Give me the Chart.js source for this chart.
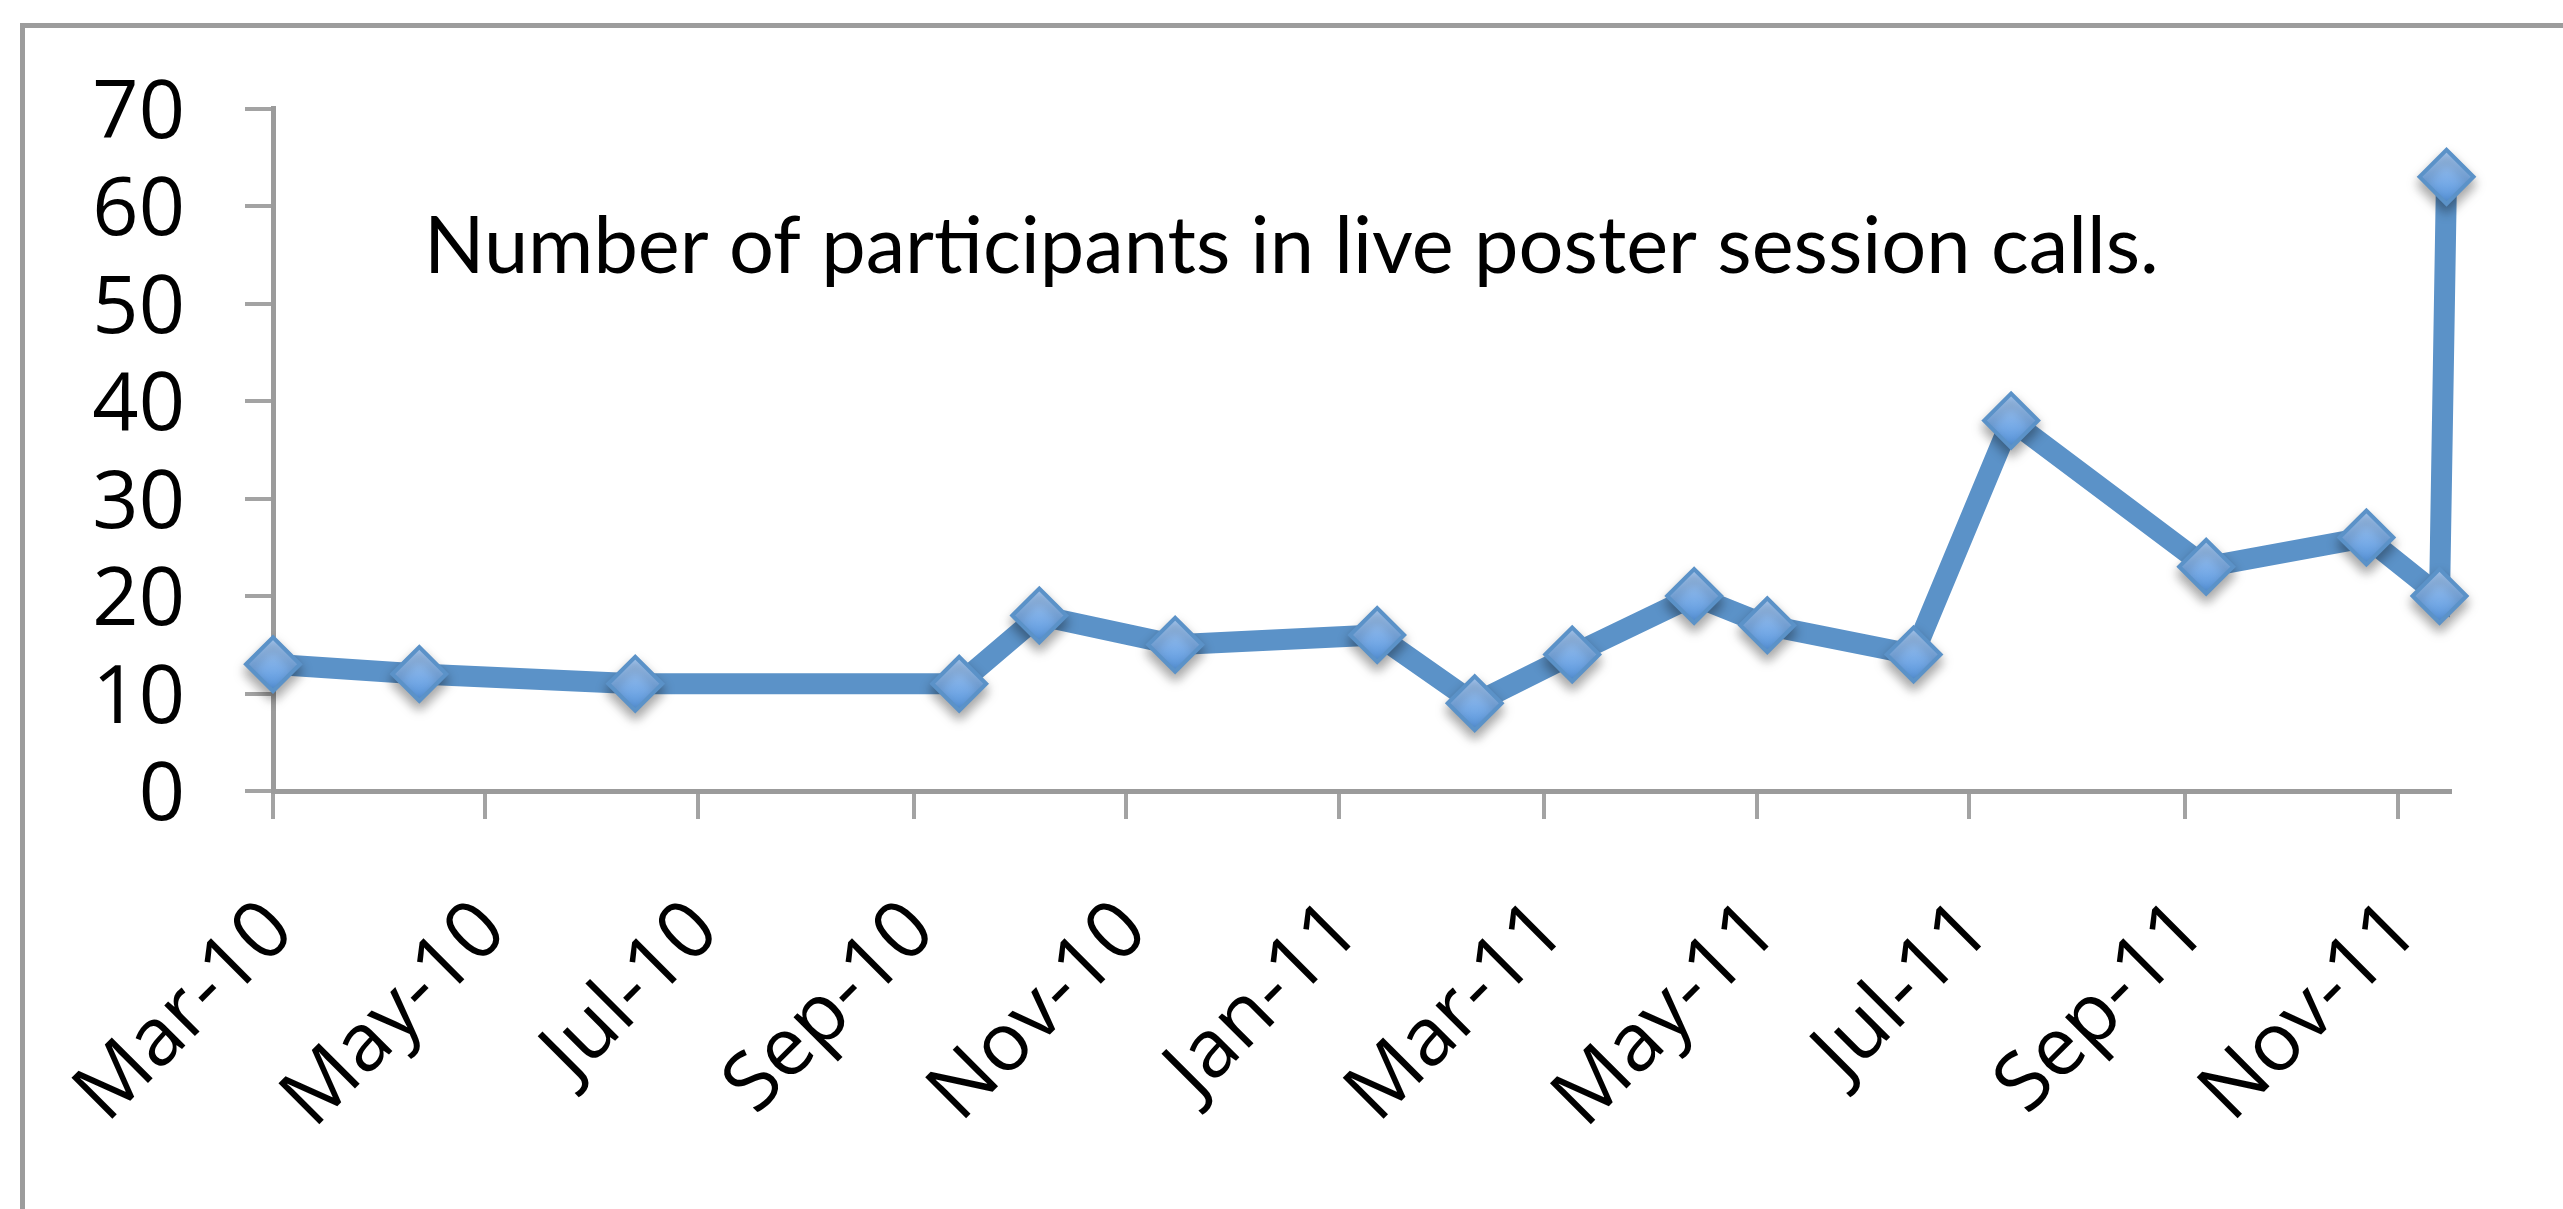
<!DOCTYPE html>
<html><head><meta charset="utf-8">
<script src="https://cdn.jsdelivr.net/npm/chart.js@4.4.1/dist/chart.umd.min.js"></script>
<style>
html,body{margin:0;padding:0;background:#fff;overflow:hidden}
#wrap{position:relative;width:2563px;height:1209px;overflow:hidden}
#frame{position:absolute;left:20px;top:23px;width:2600px;height:1182px;border-left:5px solid #9c9c9c;border-top:5px solid #9c9c9c;border-bottom:2px solid #e6e6e6;}
canvas{position:absolute;left:0;top:0}
</style></head>
<body><div id="wrap"><div id="frame"></div><canvas id="c" width="2563" height="1209"></canvas></div>
<script>
const chartTitle = 'Number of participants in live poster session calls.';
// day offsets from 1 Mar 2010 of each call
const callDays = [0, 42, 104, 197, 220, 259, 317, 345, 373, 408, 429, 471, 499, 555, 601, 622, 624];
const participants = [13, 12, 11, 11, 18, 15, 16, 9, 14, 20, 17, 14, 38, 23, 26, 20, 63];
// month ticks (day offsets from 1 Mar 2010)
const tickDays = [0, 61, 122, 184, 245, 306, 365, 426, 487, 549, 610];
const tickLabels = ['Mar-10','May-10','Jul-10','Sep-10','Nov-10','Jan-11','Mar-11','May-11','Jul-11','Sep-11','Nov-11'];
const yMin = 0, yMax = 70, yStep = 10;
const xMin = 0, xMax = 625;

const points = callDays.map((d, i) => ({x: d, y: participants[i]}));

const LINE = '#5b92c8';
const R = 27;

function markerFill(c) {
  const chart = c.chart;
  if (!chart.chartArea || c.type !== 'data' || !chart.scales.y) return '#7fb0ea';
  const py = chart.scales.y.getPixelForValue(c.parsed.y);
  if (!isFinite(py)) return '#7fb0ea';
  const g = chart.ctx.createLinearGradient(0, py - R, 0, py + R);
  g.addColorStop(0, '#abcdf6');
  g.addColorStop(1, '#5594dc');
  return g;
}

const shadowPlugin = {
  id: 'markerShadow',
  beforeDatasetDraw(chart, args) {
    if (args.index === 0) {
      const ctx = chart.ctx;
      ctx.save();
      ctx.shadowColor = 'rgba(0,0,0,0.35)';
      ctx.shadowBlur = 12;
      ctx.shadowOffsetY = 7;
    }
  },
  afterDatasetDraw(chart, args) {
    if (args.index === 0) chart.ctx.restore();
  }
};

const innerTitle = {
  id: 'innerTitle',
  beforeDatasetsDraw(chart) {
    const ctx = chart.ctx;
    const a = chart.chartArea;
    ctx.save();
    ctx.fillStyle = '#000';
    ctx.textBaseline = 'alphabetic';
    ctx.textAlign = 'left';
    let size = 81;
    ctx.font = size + 'px Lato';
    const w = ctx.measureText(chartTitle).width;
    size = Math.max(70, Math.min(90, size * 1735 / w));
    ctx.font = size + 'px Lato';
    ctx.fillText(chartTitle, a.left + 151, a.top + 164);
    ctx.restore();
  }
};

const tickFont = {family: "'Open Sans'", size: 81};

new Chart(document.getElementById('c'), {
  type: 'line',
  data: {
    datasets: [
      {
        data: points,
        showLine: false,
        clip: false,
        pointStyle: 'rectRot',
        pointRadius: R,
        pointBorderWidth: 4,
        pointBorderColor: LINE,
        pointBackgroundColor: markerFill,
        order: 0
      },
      {
        data: points,
        clip: false,
        borderColor: LINE,
        borderWidth: 21,
        borderJoinStyle: 'miter',
        borderCapStyle: 'butt',
        pointRadius: 0,
        fill: false,
        tension: 0,
        order: 1
      }
    ]
  },
  options: {
    responsive: false,
    animation: false,
    devicePixelRatio: 1,
    layout: {padding: {top: 108, right: 113, left: 0, bottom: 0}},
    plugins: {legend: {display: false}, tooltip: {enabled: false}, title: {display: false}},
    scales: {
      x: {
        type: 'linear',
        min: xMin, max: xMax,
        afterBuildTicks: s => { s.ticks = tickDays.map(v => ({value: v})); },
        afterFit: s => { s.height = 1209 - 791; },
        ticks: {
          autoSkip: false,
          maxRotation: 45, minRotation: 45,
          padding: 64,
          labelOffset: 8,
          font: tickFont,
          color: '#000',
          callback: (v, i) => tickLabels[i]
        },
        grid: {drawOnChartArea: false, drawTicks: true, tickLength: 28, lineWidth: 4, color: '#a3a3a3'},
        border: {display: true, width: 5, color: '#9b9b9b'}
      },
      y: {
        type: 'linear',
        min: yMin, max: yMax,
        afterFit: s => { s.width = 273; },
        ticks: {autoSkip: false, stepSize: yStep, padding: 60, labelOffset: 6, font: tickFont, color: '#000'},
        grid: {drawOnChartArea: false, drawTicks: true, tickLength: 28, lineWidth: 4, color: '#a3a3a3'},
        border: {display: true, width: 5, color: '#9b9b9b'}
      }
    }
  },
  plugins: [shadowPlugin, innerTitle]
});
</script>
</body></html>
